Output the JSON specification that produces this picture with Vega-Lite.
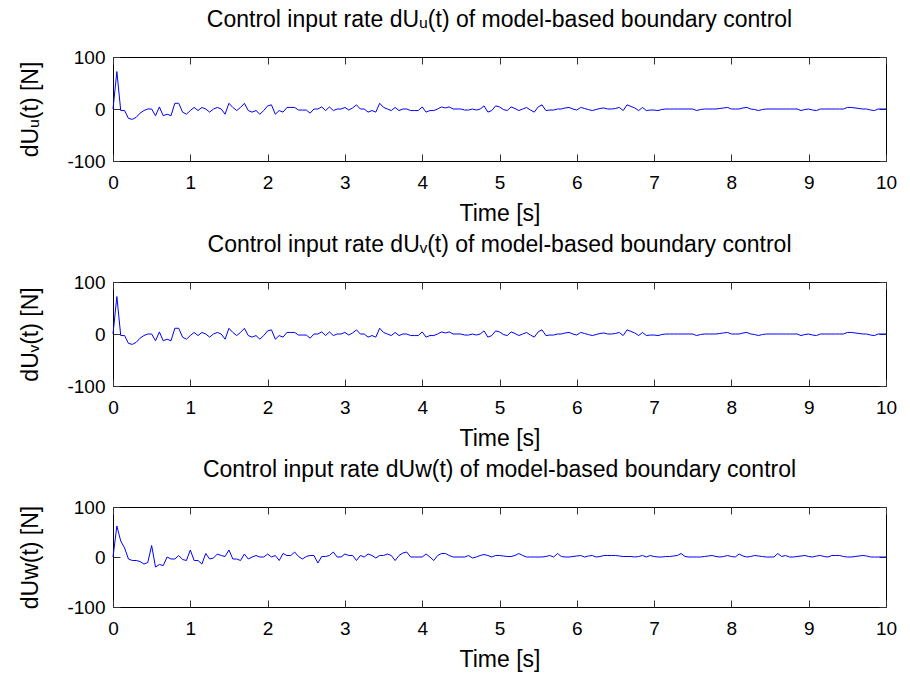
{
  "$schema": "https://vega.github.io/schema/vega-lite/v6.json",
  "background": "white",
  "padding": {"left": 19, "top": 8, "right": 5, "bottom": 5},
  "datasets": {
    "u": [
      {"t":0,"y":0},{"t":0.05,"y":72},{"t":0.1,"y":-3},{"t":0.15,"y":-3},{"t":0.2,"y":-18},{"t":0.25,"y":-20},{"t":0.3,"y":-16},{"t":0.35,"y":-8},{"t":0.4,"y":-3},{"t":0.45,"y":0},
      {"t":0.5,"y":0},{"t":0.55,"y":-13},{"t":0.6,"y":4},{"t":0.65,"y":-13},{"t":0.7,"y":-10},{"t":0.75,"y":-13},{"t":0.8,"y":11},{"t":0.85,"y":11},{"t":0.9,"y":-6},{"t":0.95,"y":-10},
      {"t":1.0,"y":-3},{"t":1.05,"y":3},{"t":1.1,"y":-3},{"t":1.15,"y":3},{"t":1.2,"y":0},{"t":1.25,"y":-6},{"t":1.3,"y":0},{"t":1.35,"y":3},{"t":1.4,"y":0},{"t":1.45,"y":-10},
      {"t":1.5,"y":11},{"t":1.55,"y":3},{"t":1.6,"y":-3},{"t":1.65,"y":3},{"t":1.7,"y":11},{"t":1.75,"y":-3},{"t":1.8,"y":-6},{"t":1.85,"y":-3},{"t":1.9,"y":-10},{"t":1.95,"y":-3},
      {"t":2.0,"y":6},{"t":2.05,"y":8},{"t":2.1,"y":-10},{"t":2.15,"y":-3},{"t":2.2,"y":-6},{"t":2.25,"y":3},{"t":2.3,"y":3},{"t":2.35,"y":3},{"t":2.4,"y":-2},{"t":2.45,"y":-2},
      {"t":2.5,"y":-2},{"t":2.55,"y":-8},{"t":2.6,"y":0},{"t":2.65,"y":0},{"t":2.7,"y":4},{"t":2.75,"y":-3},{"t":2.8,"y":4},{"t":2.85,"y":-3},{"t":2.9,"y":0},{"t":2.95,"y":0},
      {"t":3.0,"y":3},{"t":3.05,"y":-2},{"t":3.1,"y":2},{"t":3.15,"y":8},{"t":3.2,"y":0},{"t":3.25,"y":0},{"t":3.3,"y":-6},{"t":3.35,"y":-3},{"t":3.4,"y":-6},{"t":3.45,"y":11},
      {"t":3.5,"y":3},{"t":3.55,"y":0},{"t":3.6,"y":-3},{"t":3.65,"y":3},{"t":3.7,"y":-3},{"t":3.75,"y":0},{"t":3.8,"y":0},{"t":3.85,"y":-3},{"t":3.9,"y":-3},{"t":3.95,"y":-3},
      {"t":4.0,"y":4},{"t":4.05,"y":-6},{"t":4.1,"y":-3},{"t":4.15,"y":-3},{"t":4.2,"y":0},{"t":4.25,"y":4},{"t":4.3,"y":2},{"t":4.35,"y":4},{"t":4.4,"y":0},{"t":4.45,"y":0},
      {"t":4.5,"y":0},{"t":4.55,"y":-2},{"t":4.6,"y":-2},{"t":4.65,"y":0},{"t":4.7,"y":-2},{"t":4.75,"y":0},{"t":4.8,"y":6},{"t":4.85,"y":-6},{"t":4.9,"y":-3},{"t":4.95,"y":6},
      {"t":5.0,"y":4},{"t":5.05,"y":-1},{"t":5.1,"y":-3},{"t":5.15,"y":4},{"t":5.2,"y":1},{"t":5.25,"y":-3},{"t":5.3,"y":0},{"t":5.35,"y":3},{"t":5.4,"y":-2},{"t":5.45,"y":-6},
      {"t":5.5,"y":4},{"t":5.55,"y":8},{"t":5.6,"y":-3},{"t":5.65,"y":-2},{"t":5.7,"y":-2},{"t":5.75,"y":0},{"t":5.8,"y":0},{"t":5.85,"y":2},{"t":5.9,"y":3},{"t":5.95,"y":0},
      {"t":6.0,"y":-2},{"t":6.05,"y":3},{"t":6.1,"y":1},{"t":6.15,"y":-1},{"t":6.2,"y":-3},{"t":6.25,"y":-1},{"t":6.3,"y":1},{"t":6.35,"y":2},{"t":6.4,"y":0},{"t":6.45,"y":0},
      {"t":6.5,"y":1},{"t":6.55,"y":3},{"t":6.6,"y":-3},{"t":6.65,"y":8},{"t":6.7,"y":5},{"t":6.75,"y":2},{"t":6.8,"y":-3},{"t":6.85,"y":3},{"t":6.9,"y":-3},{"t":6.95,"y":-2},
      {"t":7.0,"y":-2},{"t":7.05,"y":-3},{"t":7.1,"y":-1},{"t":7.15,"y":0},{"t":7.2,"y":0},{"t":7.25,"y":0},{"t":7.3,"y":0},{"t":7.35,"y":0},{"t":7.4,"y":0},{"t":7.45,"y":0},
      {"t":7.5,"y":0},{"t":7.55,"y":-3},{"t":7.6,"y":-1},{"t":7.65,"y":0},{"t":7.7,"y":0},{"t":7.75,"y":0},{"t":7.8,"y":0},{"t":7.85,"y":1},{"t":7.9,"y":2},{"t":7.95,"y":3},
      {"t":8.0,"y":0},{"t":8.05,"y":0},{"t":8.1,"y":0},{"t":8.15,"y":2},{"t":8.2,"y":3},{"t":8.25,"y":0},{"t":8.3,"y":-1},{"t":8.35,"y":-3},{"t":8.4,"y":-1},{"t":8.45,"y":0},
      {"t":8.5,"y":0},{"t":8.55,"y":0},{"t":8.6,"y":0},{"t":8.65,"y":0},{"t":8.7,"y":0},{"t":8.75,"y":0},{"t":8.8,"y":0},{"t":8.85,"y":0},{"t":8.9,"y":-3},{"t":8.95,"y":-1},
      {"t":9.0,"y":0},{"t":9.05,"y":-2},{"t":9.1,"y":-3},{"t":9.15,"y":0},{"t":9.2,"y":0},{"t":9.25,"y":0},{"t":9.3,"y":0},{"t":9.35,"y":0},{"t":9.4,"y":0},{"t":9.45,"y":0},
      {"t":9.5,"y":3},{"t":9.55,"y":3},{"t":9.6,"y":2},{"t":9.65,"y":1},{"t":9.7,"y":0},{"t":9.75,"y":0},{"t":9.8,"y":-2},{"t":9.85,"y":-3},{"t":9.9,"y":0},{"t":9.95,"y":0},
      {"t":10.0,"y":0}
    ],
    "w": [
      {"t":0,"y":0},{"t":0.05,"y":62},{"t":0.1,"y":32},{"t":0.15,"y":18},{"t":0.2,"y":-4},{"t":0.25,"y":-7},{"t":0.3,"y":-7},{"t":0.35,"y":-9},{"t":0.4,"y":-14},{"t":0.45,"y":-11},
      {"t":0.5,"y":23},{"t":0.55,"y":-20},{"t":0.6,"y":-15},{"t":0.65,"y":-17},{"t":0.7,"y":0},{"t":0.75,"y":-4},{"t":0.8,"y":-4},{"t":0.85,"y":3},{"t":0.9,"y":-5},{"t":0.95,"y":-7},
      {"t":1.0,"y":14},{"t":1.05,"y":-7},{"t":1.1,"y":-7},{"t":1.15,"y":-14},{"t":1.2,"y":7},{"t":1.25,"y":-4},{"t":1.3,"y":-2},{"t":1.35,"y":6},{"t":1.4,"y":3},{"t":1.45,"y":1},
      {"t":1.5,"y":14},{"t":1.55,"y":-4},{"t":1.6,"y":-4},{"t":1.65,"y":-7},{"t":1.7,"y":6},{"t":1.75,"y":-4},{"t":1.8,"y":0},{"t":1.85,"y":3},{"t":1.9,"y":0},{"t":1.95,"y":0},
      {"t":2.0,"y":6},{"t":2.05,"y":0},{"t":2.1,"y":3},{"t":2.15,"y":-7},{"t":2.2,"y":7},{"t":2.25,"y":3},{"t":2.3,"y":3},{"t":2.35,"y":10},{"t":2.4,"y":1},{"t":2.45,"y":-4},
      {"t":2.5,"y":1},{"t":2.55,"y":3},{"t":2.6,"y":3},{"t":2.65,"y":-12},{"t":2.7,"y":1},{"t":2.75,"y":1},{"t":2.8,"y":3},{"t":2.85,"y":10},{"t":2.9,"y":0},{"t":2.95,"y":0},
      {"t":3.0,"y":6},{"t":3.05,"y":3},{"t":3.1,"y":3},{"t":3.15,"y":-7},{"t":3.2,"y":3},{"t":3.25,"y":0},{"t":3.3,"y":6},{"t":3.35,"y":3},{"t":3.4,"y":-2},{"t":3.45,"y":3},
      {"t":3.5,"y":3},{"t":3.55,"y":6},{"t":3.6,"y":3},{"t":3.65,"y":-7},{"t":3.7,"y":3},{"t":3.75,"y":8},{"t":3.8,"y":10},{"t":3.85,"y":0},{"t":3.9,"y":0},{"t":3.95,"y":0},
      {"t":4.0,"y":0},{"t":4.05,"y":6},{"t":4.1,"y":0},{"t":4.15,"y":-7},{"t":4.2,"y":3},{"t":4.25,"y":7},{"t":4.3,"y":7},{"t":4.35,"y":3},{"t":4.4,"y":0},{"t":4.45,"y":0},
      {"t":4.5,"y":0},{"t":4.55,"y":0},{"t":4.6,"y":3},{"t":4.65,"y":-2},{"t":4.7,"y":0},{"t":4.75,"y":3},{"t":4.8,"y":5},{"t":4.85,"y":3},{"t":4.9,"y":0},{"t":4.95,"y":3},
      {"t":5.0,"y":3},{"t":5.05,"y":2},{"t":5.1,"y":1},{"t":5.15,"y":1},{"t":5.2,"y":3},{"t":5.25,"y":7},{"t":5.3,"y":3},{"t":5.35,"y":0},{"t":5.4,"y":0},{"t":5.45,"y":0},
      {"t":5.5,"y":0},{"t":5.55,"y":0},{"t":5.6,"y":1},{"t":5.65,"y":3},{"t":5.7,"y":0},{"t":5.75,"y":7},{"t":5.8,"y":1},{"t":5.85,"y":0},{"t":5.9,"y":0},{"t":5.95,"y":1},
      {"t":6.0,"y":2},{"t":6.05,"y":3},{"t":6.1,"y":0},{"t":6.15,"y":2},{"t":6.2,"y":3},{"t":6.25,"y":0},{"t":6.3,"y":1},{"t":6.35,"y":3},{"t":6.4,"y":3},{"t":6.45,"y":3},
      {"t":6.5,"y":3},{"t":6.55,"y":2},{"t":6.6,"y":1},{"t":6.65,"y":1},{"t":6.7,"y":1},{"t":6.75,"y":0},{"t":6.8,"y":1},{"t":6.85,"y":3},{"t":6.9,"y":0},{"t":6.95,"y":3},
      {"t":7.0,"y":1},{"t":7.05,"y":0},{"t":7.1,"y":0},{"t":7.15,"y":1},{"t":7.2,"y":1},{"t":7.25,"y":2},{"t":7.3,"y":3},{"t":7.35,"y":7},{"t":7.4,"y":1},{"t":7.45,"y":0},
      {"t":7.5,"y":0},{"t":7.55,"y":0},{"t":7.6,"y":0},{"t":7.65,"y":1},{"t":7.7,"y":2},{"t":7.75,"y":3},{"t":7.8,"y":1},{"t":7.85,"y":0},{"t":7.9,"y":1},{"t":7.95,"y":3},
      {"t":8.0,"y":1},{"t":8.05,"y":0},{"t":8.1,"y":6},{"t":8.15,"y":2},{"t":8.2,"y":0},{"t":8.25,"y":1},{"t":8.3,"y":3},{"t":8.35,"y":2},{"t":8.4,"y":1},{"t":8.45,"y":0},
      {"t":8.5,"y":0},{"t":8.55,"y":0},{"t":8.6,"y":7},{"t":8.65,"y":1},{"t":8.7,"y":3},{"t":8.75,"y":0},{"t":8.8,"y":0},{"t":8.85,"y":1},{"t":8.9,"y":2},{"t":8.95,"y":3},
      {"t":9.0,"y":1},{"t":9.05,"y":0},{"t":9.1,"y":2},{"t":9.15,"y":3},{"t":9.2,"y":1},{"t":9.25,"y":0},{"t":9.3,"y":3},{"t":9.35,"y":3},{"t":9.4,"y":3},{"t":9.45,"y":1},
      {"t":9.5,"y":0},{"t":9.55,"y":0},{"t":9.6,"y":1},{"t":9.65,"y":2},{"t":9.7,"y":3},{"t":9.75,"y":2},{"t":9.8,"y":0},{"t":9.85,"y":0},{"t":9.9,"y":0},{"t":9.95,"y":0},
      {"t":10.0,"y":0}
    ]
  },
  "config": {
    "view": {"stroke": "black", "strokeWidth": 1},
    "font": "Liberation Sans",
    "axis": {
      "grid": false,
      "domain": false,
      "labelFont": "Liberation Sans",
      "labelFontSize": 19,
      "labelColor": "black",
      "labelFlush": false,
      "labelOverlap": false,
      "titleFont": "Liberation Sans",
      "titleFontSize": 23,
      "titleFontWeight": "normal",
      "titleColor": "black",
      "tickColor": "#333333",
      "tickSize": -7,
      "tickWidth": 1
    },
    "axisX": {"labelPadding": 19, "titlePadding": 10},
    "axisY": {"labelPadding": 15, "titlePadding": 24},
    "title": {"font": "Liberation Sans", "fontSize": 23, "fontWeight": "normal", "color": "black", "offset": 16},
    "concat": {"spacing": 7}
  },
  "vconcat": [
    {
      "width": 773, "height": 104,
      "title": "Control input rate dUᵤ(t) of model-based boundary control",
      "data": {"name": "u"},
      "layer": [
        {
          "mark": {"type": "line", "color": "#0000ff", "strokeWidth": 1},
          "encoding": {
            "x": {"field": "t", "type": "quantitative", "scale": {"domain": [0, 10], "nice": false}, "axis": {"values": [0,1,2,3,4,5,6,7,8,9,10], "title": "Time [s]"}},
            "y": {"field": "y", "type": "quantitative", "scale": {"domain": [-100, 100], "nice": false}, "axis": {"values": [-100, 0, 100], "labelExpr": "datum.value < 0 ? '-' + format(-datum.value, 'd') : datum.label", "title": "dUᵤ(t) [N]"}}
          }
        },
        {
          "mark": {"type": "line", "strokeOpacity": 0},
          "encoding": {
            "x": {"field": "t", "type": "quantitative", "axis": {"orient": "top", "values": [0,1,2,3,4,5,6,7,8,9,10], "labels": false, "title": null}},
            "y": {"field": "y", "type": "quantitative", "axis": {"orient": "right", "values": [-100, 0, 100], "labels": false, "title": null}}
          }
        }
      ],
      "resolve": {"axis": {"x": "independent", "y": "independent"}}
    },
    {
      "width": 773, "height": 104,
      "title": "Control input rate dUᵥ(t) of model-based boundary control",
      "data": {"name": "u"},
      "layer": [
        {
          "mark": {"type": "line", "color": "#0000ff", "strokeWidth": 1},
          "encoding": {
            "x": {"field": "t", "type": "quantitative", "scale": {"domain": [0, 10], "nice": false}, "axis": {"values": [0,1,2,3,4,5,6,7,8,9,10], "title": "Time [s]"}},
            "y": {"field": "y", "type": "quantitative", "scale": {"domain": [-100, 100], "nice": false}, "axis": {"values": [-100, 0, 100], "labelExpr": "datum.value < 0 ? '-' + format(-datum.value, 'd') : datum.label", "title": "dUᵥ(t) [N]"}}
          }
        },
        {
          "mark": {"type": "line", "strokeOpacity": 0},
          "encoding": {
            "x": {"field": "t", "type": "quantitative", "axis": {"orient": "top", "values": [0,1,2,3,4,5,6,7,8,9,10], "labels": false, "title": null}},
            "y": {"field": "y", "type": "quantitative", "axis": {"orient": "right", "values": [-100, 0, 100], "labels": false, "title": null}}
          }
        }
      ],
      "resolve": {"axis": {"x": "independent", "y": "independent"}}
    },
    {
      "width": 773, "height": 100,
      "title": "Control input rate dUw(t) of model-based boundary control",
      "data": {"name": "w"},
      "layer": [
        {
          "mark": {"type": "line", "color": "#0000ff", "strokeWidth": 1},
          "encoding": {
            "x": {"field": "t", "type": "quantitative", "scale": {"domain": [0, 10], "nice": false}, "axis": {"values": [0,1,2,3,4,5,6,7,8,9,10], "title": "Time [s]"}},
            "y": {"field": "y", "type": "quantitative", "scale": {"domain": [-100, 100], "nice": false}, "axis": {"values": [-100, 0, 100], "labelExpr": "datum.value < 0 ? '-' + format(-datum.value, 'd') : datum.label", "title": "dUw(t) [N]"}}
          }
        },
        {
          "mark": {"type": "line", "strokeOpacity": 0},
          "encoding": {
            "x": {"field": "t", "type": "quantitative", "axis": {"orient": "top", "values": [0,1,2,3,4,5,6,7,8,9,10], "labels": false, "title": null}},
            "y": {"field": "y", "type": "quantitative", "axis": {"orient": "right", "values": [-100, 0, 100], "labels": false, "title": null}}
          }
        }
      ],
      "resolve": {"axis": {"x": "independent", "y": "independent"}}
    }
  ]
}
